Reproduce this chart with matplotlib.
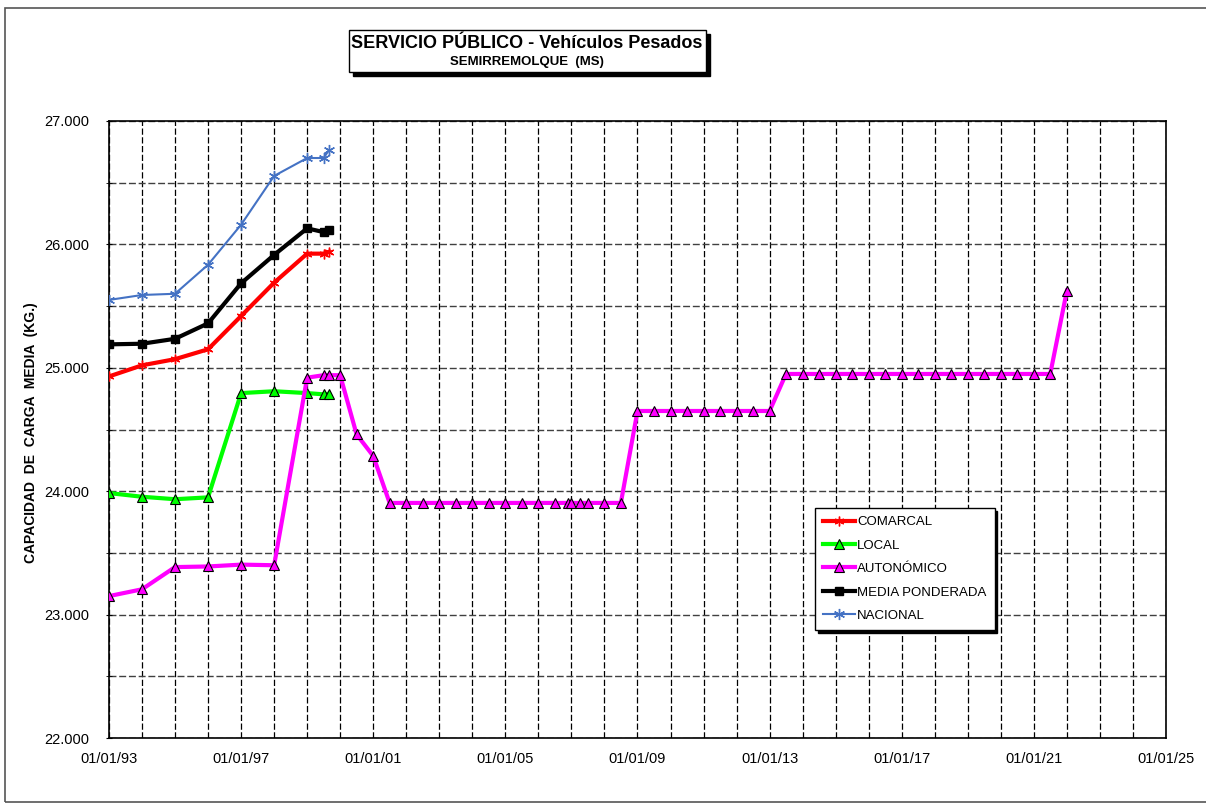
import datetime as dt
import numpy as np
import matplotlib
matplotlib.use("Agg")
import matplotlib.pyplot as plt
import matplotlib.dates as mdates
import matplotlib.ticker as mticker
from matplotlib.patches import Rectangle


def d(y, m=1, day=1):
    return dt.datetime(y, m, day)


# --- data ---
early_dates = [d(1993), d(1994), d(1995), d(1996), d(1997), d(1998), d(1999),
               d(1999, 7), d(1999, 9)]
comarcal = [24930, 25020, 25070, 25150, 25420, 25690, 25925, 25925, 25940]
local = [23985, 23955, 23935, 23950, 24795, 24810, 24795, 24785, 24790]
media = [25190, 25195, 25235, 25360, 25685, 25915, 26130, 26100, 26120]
nacional = [25550, 25590, 25600, 25835, 26160, 26555, 26700, 26700, 26765]

auto_dates = (early_dates + [d(2000), d(2000, 7), d(2001), d(2001, 7), d(2002), d(2002, 7),
              d(2003), d(2003, 7), d(2004), d(2004, 7), d(2005), d(2005, 7), d(2006),
              d(2006, 7), d(2006, 11, 20), d(2007), d(2007, 4), d(2007, 7), d(2008),
              d(2008, 7), d(2009), d(2009, 7), d(2010), d(2010, 7), d(2011), d(2011, 7),
              d(2012), d(2012, 7), d(2013), d(2013, 7), d(2014), d(2014, 7), d(2015),
              d(2015, 7), d(2016), d(2016, 7), d(2017), d(2017, 7), d(2018), d(2018, 7),
              d(2019), d(2019, 7), d(2020), d(2020, 7), d(2021), d(2021, 7), d(2022)])
autonomico = ([23150, 23205, 23385, 23390, 23405, 23400, 24920, 24940, 24940]
              + [24940, 24460, 24285] + [23905] * 17 + [24650] * 9 + [24950] * 17 + [25625])

major_years = [d(y) for y in range(1993, 2026, 4)]
minor_years = [d(y) for y in range(1993, 2026)]

# --- figure ---
fig = plt.figure(figsize=(12.06, 8.07), dpi=100)
W, H = 1206, 807


def fx(px):
    return px / W


def fy(py):
    return 1 - py / H


# outer border
fig.patches.append(Rectangle((fx(5), fy(802)), fx(1240) - fx(5), fy(8) - fy(802),
                             transform=fig.transFigure, fill=False,
                             edgecolor="#555555", linewidth=1.2))

ax = fig.add_axes([fx(109), fy(738), fx(1166) - fx(109), fy(121) - fy(738)])

ax.plot(early_dates, comarcal, color="#ff0000", lw=3, marker=(6, 2, 0), ms=7,
        mec="#ff0000", mew=1, label="COMARCAL", zorder=4)
ax.plot(early_dates, local, color="#00ff00", lw=3, marker="^", ms=6.5,
        mfc="#00ff00", mec="black", mew=0.8, label="LOCAL", zorder=4)
ax.plot(auto_dates, autonomico, color="#ff00ff", lw=3, marker="^", ms=6.5,
        mfc="#ff00ff", mec="black", mew=0.8, label="AUTONÓMICO", zorder=5)
ax.plot(early_dates, media, color="black", lw=3, marker="s", ms=6,
        mfc="black", mec="black", label="MEDIA PONDERADA", zorder=4)
ax.plot(early_dates, nacional, color="#4472c4", lw=1.5, marker=(6, 2, 0), ms=8,
        mec="#4472c4", mew=1, label="NACIONAL", zorder=4)

ax.set_xlim(d(1993), d(2025))
ax.set_ylim(22000, 27000)

ax.xaxis.set_major_locator(mticker.FixedLocator(mdates.date2num(major_years)))
ax.xaxis.set_minor_locator(mticker.FixedLocator(mdates.date2num(minor_years)))
ax.xaxis.set_major_formatter(mdates.DateFormatter("%d/%m/%y"))
ax.yaxis.set_major_locator(mticker.MultipleLocator(1000))
ax.yaxis.set_minor_locator(mticker.MultipleLocator(500))
ax.yaxis.set_major_formatter(mticker.FuncFormatter(lambda v, p: f"{v:,.0f}".replace(",", ".")))

ax.grid(which="both", axis="x", color="black", lw=0.9, linestyle=(0, (5, 2)))
ax.grid(which="both", axis="y", color="#404040", lw=1.0, linestyle=(0, (5, 2)))
ax.set_axisbelow(True)

ax.tick_params(axis="x", which="both", length=0, pad=10, labelsize=10.5)
ax.tick_params(axis="y", which="both", direction="inout", length=5, pad=12, labelsize=10.5)
for lab in ax.get_xticklabels() + ax.get_yticklabels():
    lab.set_fontfamily(["Liberation Sans", "DejaVu Sans"])
for s in ax.spines.values():
    s.set_linewidth(1.2)

fig.text(fx(31), fy(433), "CAPACIDAD  DE  CARGA  MEDIA  (KG.)", rotation=90,
         ha="center", va="center", fontsize=10, fontweight="bold",
         family=["Liberation Sans", "DejaVu Sans"])

# title box with shadow
bx0, by0, bx1, by1 = 349, 30, 706, 72
fig.patches.append(Rectangle((fx(bx0 + 4), fy(by1 + 4)), fx(bx1) - fx(bx0), fy(by0) - fy(by1),
                             transform=fig.transFigure, facecolor="black", edgecolor="black"))
fig.patches.append(Rectangle((fx(bx0), fy(by1)), fx(bx1) - fx(bx0), fy(by0) - fy(by1),
                             transform=fig.transFigure, facecolor="white", edgecolor="black",
                             linewidth=1))
narrow = ["Liberation Sans", "DejaVu Sans"]
fig.text(fx(527), fy(44), "SERVICIO PÚBLICO - Vehículos Pesados", ha="center", va="center",
         fontsize=13, fontweight="bold", family=narrow)
fig.text(fx(527), fy(62), "SEMIRREMOLQUE  (MS)", ha="center", va="center",
         fontsize=9.5, fontweight="bold", family=narrow)

leg = ax.legend(loc="upper left", bbox_to_anchor=(fx(815), fy(508)),
                bbox_transform=fig.transFigure, frameon=True, fancybox=False,
                edgecolor="black", framealpha=1, borderpad=0.6, labelspacing=0.85,
                handlelength=2.4, handletextpad=0.2, borderaxespad=0,
                prop={"family": ["Liberation Sans", "DejaVu Sans"], "size": 9.5},
                shadow={"facecolor": "black", "edgecolor": "black", "alpha": 1})
leg.get_frame().set_linewidth(1.0)
leg.set_zorder(10)

fig.savefig("out.png", dpi=100)
